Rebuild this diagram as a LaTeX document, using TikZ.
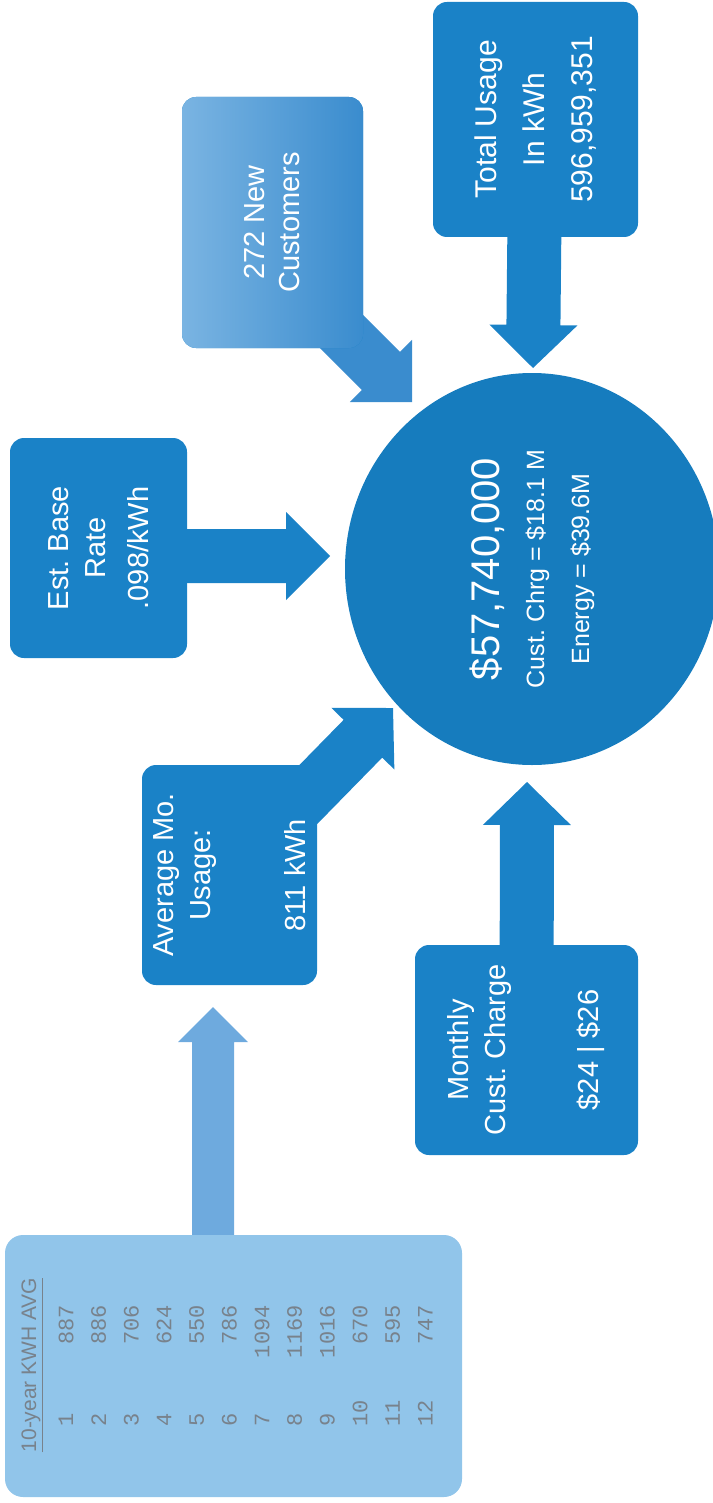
\documentclass[tikz,border=0pt]{standalone}
\usepackage{fontspec}
\setmainfont{Liberation Sans}
\newfontfamily\tabfont{Liberation Mono}
\usetikzlibrary{calc,shapes.geometric,backgrounds}
\frenchspacing

\definecolor{boxblue}{RGB}{26,130,199}
\definecolor{ballblue}{RGB}{22,124,190}
\definecolor{lightblue}{RGB}{145,197,234}
\definecolor{shaftblue}{RGB}{110,170,222}
\definecolor{custblue}{RGB}{58,140,206}
\definecolor{custlight}{RGB}{122,180,226}
\definecolor{tabgray}{RGB}{120,130,140}

% block arrow: [colour]{from}{to}{half shaft}{half head}{head length}
\newcommand{\blockarrow}[6][boxblue]{%
  \coordinate (bk) at ($(#3)!#6!(#2)$);
  \fill[#1] ($(#2)!#4!90:(#3)$) -- ($(bk)!#4!90:(#3)$) -- ($(bk)!#5!90:(#3)$) -- (#3)
    -- ($(bk)!#5!-90:(#3)$) -- ($(bk)!#4!-90:(#3)$) -- ($(#2)!#4!-90:(#3)$) -- cycle;}

\begin{document}
\begin{tikzpicture}[x=1pt,y=-1pt,
  inbox/.style={rotate=90,rounded corners=14pt,fill=boxblue,text=white,align=center,
    inner sep=0pt,font=\fontsize{29}{37}\selectfont},
  tabtext/.style={rotate=90,text=tabgray,inner sep=0pt,font=\tabfont\fontsize{22}{22}\selectfont}]
 \useasboundingbox (0,0) rectangle (712,1503);

 % boxes
 \node[inbox,minimum width=262pt,minimum height=457pt,fill=lightblue,rounded corners=18pt] (table) at (233.5,1366) {};
 \node[inbox,minimum width=220pt,minimum height=175pt] (avg) at (229.5,875) {Average Mo.\\Usage:\\[58pt]811 kWh};
 \node[inbox,minimum width=220pt,minimum height=177pt] (rate) at (98.5,548) {Est. Base\\Rate\\[6pt].098/kWh};
 \node[inbox,minimum width=251pt,minimum height=181pt,left color=custlight,right color=custblue,
   font=\fontsize{29}{35}\selectfont] (cust) at (272.5,222.5) {272 New\\Customers};
 \node[inbox,minimum width=235pt,minimum height=205pt,font=\fontsize{30}{48}\selectfont] (total) at (535.5,119.5)
   {Total Usage\\In kWh\\596,959,351};
 \node[inbox,minimum width=210pt,minimum height=223pt] (month) at (526.5,1050) {Monthly\\Cust. Charge\\[56pt]\$24 | \$26};
 \node[inbox,ellipse,fill=ballblue,minimum width=392pt,minimum height=374pt,font=\fontsize{25}{45}\selectfont] (ball) at (532,569)
   {{\fontsize{40}{45}\selectfont\$57,740,000}\\Cust. Chrg = \$18.1 M\\Energy = \$39.6M};

 % table
 \node[tabtext,font=\fontsize{21}{21}\selectfont] (head) at (32,1365) {\underline{10-year KWH AVG}};
 \foreach \m/\v [count=\i from 0] in {1/887,2/886,3/706,4/624,5/550,6/786,7/1094,8/1169,9/1016,10/670,11/595,12/747} {
   \node[tabtext,anchor=west] (m\m) at (66+\i*32.67,1427) {\m};
   \node[tabtext,anchor=east] (v\m) at (66+\i*32.67,1305) {\v};
 }

 % arrows
 \coordinate (tAvg) at (393,708);
 \coordinate (tRate) at (330,556);
 \coordinate (sRate) at (rate.center |- tRate);
 \coordinate (tCust) at (412,402);
 \coordinate (sCust) at (300,290);
 \coordinate (tTotal) at (533,368);
 \coordinate (tMonth) at (527,782);
 \coordinate (tTable) at (213,1007);
 \coordinate (sTable) at (table.center -| tTable);
 \begin{scope}[on background layer]
  \blockarrow{avg.center}{tAvg}{27pt}{44pt}{43pt}
  \blockarrow{sRate}{tRate}{27pt}{44pt}{44pt}
  \blockarrow[custblue]{sCust}{tCust}{27pt}{44pt}{44pt}
  \blockarrow{total.center}{tTotal}{27pt}{44pt}{43pt}
  \blockarrow{month.center}{tMonth}{27pt}{44pt}{43pt}
  \blockarrow[shaftblue]{sTable}{tTable}{21pt}{35pt}{35pt}
 \end{scope}
\end{tikzpicture}
\end{document}
